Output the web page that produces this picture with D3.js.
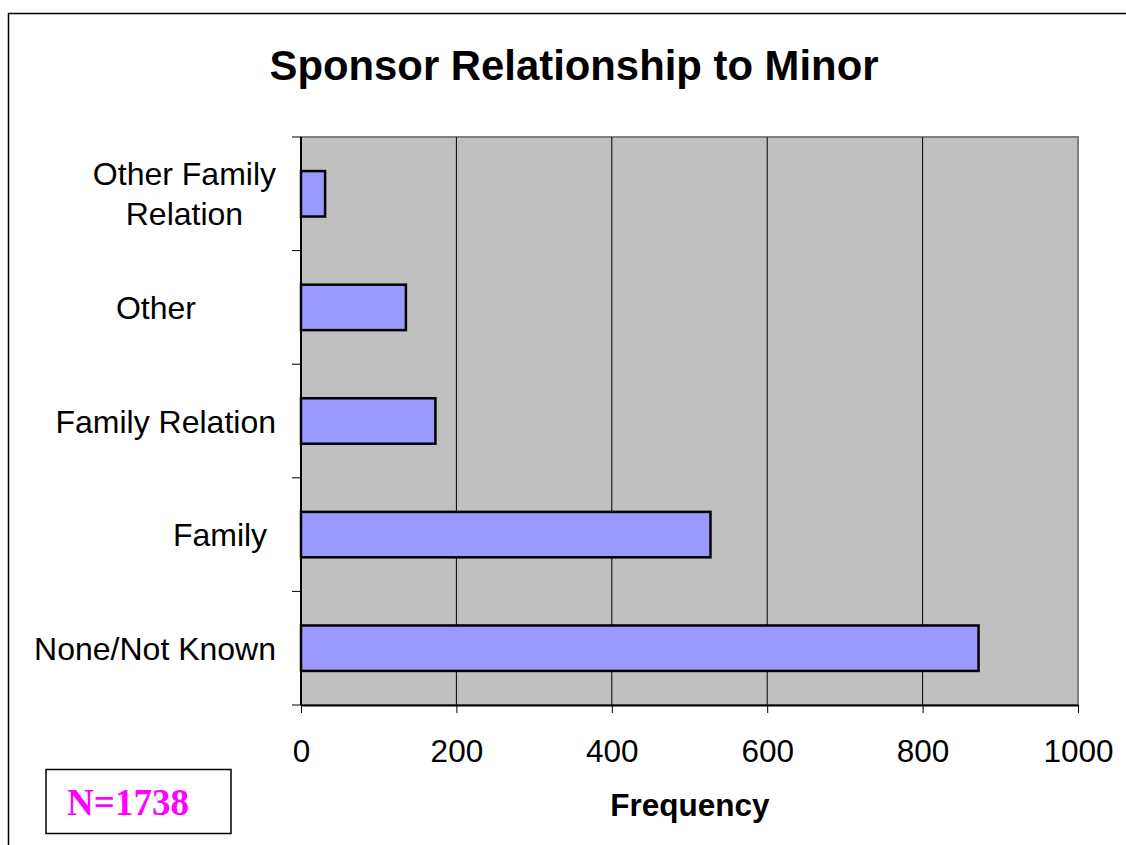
<!DOCTYPE html>
<html>
<head>
<meta charset="utf-8">
<script src="https://cdn.jsdelivr.net/npm/d3@7"></script>
<style>
  body { margin: 0; background: #fff; }
  svg { display: block; font-family: Arial, "Liberation Sans", sans-serif; }
</style>
</head>
<body>
<div id="chart"></div>
<script>
// data
var categories = ["Other Family Relation", "Other", "Family Relation", "Family", "None/Not Known"];
var labelLines = [["Other Family", "Relation"], ["Other         "], ["Family Relation"], ["Family "], ["None/Not Known"]];
var counts = [31, 135, 173, 527, 872];
var xTicks = [0, 200, 400, 600, 800, 1000];

var W = 1126, H = 845;
var margin = {top: 137, right: 48, bottom: 140, left: 301},
    width = W - margin.left - margin.right,
    height = H - margin.top - margin.bottom;

var svg = d3.select("#chart")
  .append("svg")
    .attr("width", W)
    .attr("height", H);

// outer frame (cut by the page edge)
svg.append("rect")
  .attr("x", 8.5).attr("y", 13.5)
  .attr("width", W + 20).attr("height", H + 20)
  .attr("fill", "none")
  .attr("stroke", "#000")
  .attr("stroke-width", 1.5);

// title
svg.append("text")
  .attr("x", 574).attr("y", 80)
  .attr("text-anchor", "middle")
  .attr("font-weight", "bold")
  .attr("font-size", 42)
  .attr("textLength", 609)
  .attr("lengthAdjust", "spacingAndGlyphs")
  .text("Sponsor Relationship to Minor");

var g = svg.append("g")
  .attr("transform", "translate(" + margin.left + "," + margin.top + ")");

var x = d3.scaleLinear()
  .domain([0, 1000])
  .range([0, width]);

var y = d3.scaleBand()
  .domain(categories)
  .range([0, height])
  .paddingInner(0.6)
  .paddingOuter(0.3);

// plot area
g.append("rect")
  .attr("width", width).attr("height", height)
  .attr("fill", "#C0C0C0")
  .attr("stroke", "#808080")
  .attr("stroke-width", 2);

// gridlines
g.selectAll(".grid")
  .data(xTicks.slice(1, -1))
  .enter()
  .append("line")
    .attr("x1", function(d) { return x(d); })
    .attr("x2", function(d) { return x(d); })
    .attr("y1", 0).attr("y2", height)
    .attr("stroke", "#000")
    .attr("stroke-width", 1);

// bars
g.selectAll(".bar")
  .data(categories)
  .enter()
  .append("rect")
    .attr("x", x(0))
    .attr("y", function(d) { return y(d); })
    .attr("width", function(d, i) { return x(counts[i]) - x(0); })
    .attr("height", y.bandwidth())
    .attr("fill", "#9999FF")
    .attr("stroke", "#000")
    .attr("stroke-width", 2.5);

// x axis
var xAxis = g.append("g")
  .attr("transform", "translate(0," + height + ")")
  .call(d3.axisBottom(x).tickValues(xTicks).tickFormat(d3.format("d"))
    .tickSize(8).tickPadding(27).tickSizeOuter(0));
xAxis.select(".domain").attr("stroke", "#000").attr("stroke-width", 2);
xAxis.selectAll(".tick line").attr("stroke", "#000");
xAxis.selectAll(".tick text")
  .attr("font-size", 31.5)
  .attr("font-family", "Arial, 'Liberation Sans', sans-serif")
  .attr("fill", "#000")
  .attr("dy", "0.71em");

// y axis: ticks at category boundaries
var step = height / categories.length;
var yEdges = d3.range(categories.length + 1).map(function(i) { return i * step; });
g.append("line")
  .attr("x1", 0).attr("x2", 0)
  .attr("y1", 0).attr("y2", height)
  .attr("stroke", "#000").attr("stroke-width", 2);
g.selectAll(".ytick")
  .data(yEdges)
  .enter()
  .append("line")
    .attr("x1", -9).attr("x2", 0)
    .attr("y1", function(d) { return d; })
    .attr("y2", function(d) { return d; })
    .attr("stroke", "#000").attr("stroke-width", 1);

// category labels: block right-aligned, lines centred within the block
categories.forEach(function(c, i) {
  var lines = labelLines[i];
  var cy = y(c) + y.bandwidth() / 2;
  var lh = 40;
  var t = g.append("text")
    .attr("font-size", 32)
    .attr("fill", "#000")
    .style("white-space", "pre");
  lines.forEach(function(s, j) {
    t.append("tspan")
      .attr("x", -25)
      .attr("y", cy + (j - (lines.length - 1) / 2) * lh)
      .attr("dy", "0.36em")
      .text(s);
  });
  var bb = t.node().getBBox();
  t.selectAll("tspan").each(function() {
    var w = this.getComputedTextLength();
    d3.select(this).attr("x", -25 - bb.width + (bb.width - w) / 2);
  });
});

// axis title
svg.append("text")
  .attr("x", 690).attr("y", 816)
  .attr("text-anchor", "middle")
  .attr("font-weight", "bold")
  .attr("font-size", 31.5)
  .text("Frequency");

// N box
svg.append("rect")
  .attr("x", 46).attr("y", 769.5)
  .attr("width", 185).attr("height", 64)
  .attr("fill", "#fff")
  .attr("stroke", "#000")
  .attr("stroke-width", 1.5);
svg.append("text")
  .attr("x", 128).attr("y", 815)
  .attr("text-anchor", "middle")
  .attr("font-family", "'Liberation Serif', 'Times New Roman', serif")
  .attr("font-weight", "bold")
  .attr("font-size", 37)
  .attr("fill", "#FF00FF")
  .text("N=1738");
</script>
</body>
</html>
